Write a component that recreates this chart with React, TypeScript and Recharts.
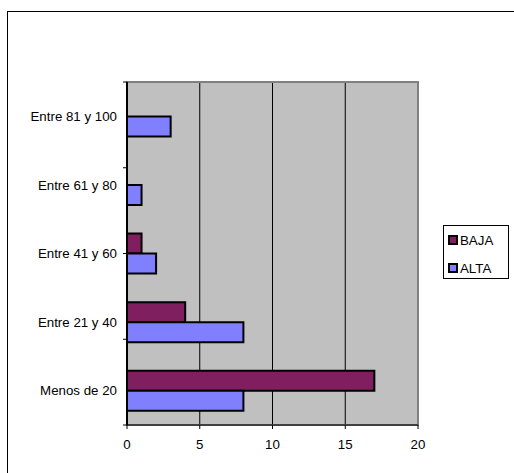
import React from 'react';
import { BarChart, Bar, XAxis, YAxis, CartesianGrid, Legend, ReferenceArea } from 'recharts';

const categories = ['Entre 81 y 100', 'Entre 61 y 80', 'Entre 41 y 60', 'Entre 21 y 40', 'Menos de 20'];
const seriesNames = ['BAJA', 'ALTA'];
const baja = [0, 0, 1, 4, 17];
const alta = [3, 1, 2, 8, 8];
const xTicks = [0, 5, 10, 15, 20];
const bandEdges = [0, 1, 2, 3, 4, 5];

const data = categories.map((name, i) => ({ name, BAJA: baja[i], ALTA: alta[i] }));

const FONT = 'Liberation Sans, Arial, sans-serif';

// legend drawn as a boxed list like the original
const renderLegend = (props: any) => {
  const payload = [...(props.payload || [])].sort(
    (a: any, b: any) => seriesNames.indexOf(a.value) - seriesNames.indexOf(b.value)
  );
  return (
    <div
      style={{
        width: 66,
        height: 54,
        border: '1px solid #000',
        background: '#fff',
        boxSizing: 'border-box',
        padding: '7px 0 0 4px',
        fontFamily: FONT,
        fontSize: 13.3,
        color: '#000',
      }}
    >
      {payload.map((entry: any) => (
        <div key={entry.value} style={{ display: 'flex', alignItems: 'center', height: 14, marginBottom: 14 }}>
          <span
            style={{
              display: 'inline-block',
              width: 10,
              height: 10,
              background: entry.color,
              border: '2px solid #000',
              boxSizing: 'border-box',
              marginRight: 2,
            }}
          />
          <span>{entry.value}</span>
        </div>
      ))}
    </div>
  );
};

const App: React.FC = () => {
  return (
    <div style={{ position: 'fixed', left: 0, top: 0, width: 514, height: 473, overflow: 'hidden', background: '#fff' }}>
      <div
        style={{
          position: 'absolute',
          left: 7,
          top: 11,
          width: 540,
          height: 500,
          border: '1px solid #000',
        }}
      />
      <div style={{ position: 'absolute', left: 0, top: 0 }}>
        <BarChart
          width={514}
          height={473}
          data={data}
          layout="vertical"
          margin={{ top: 82, right: 96, bottom: 18, left: 7 }}
          barGap={0}
          barCategoryGap="21%"
        >
          <CartesianGrid horizontal={false} fill="#C0C0C0" stroke="#000" strokeWidth={1} />
          <ReferenceArea x1={0} x2={20} yAxisId="b_cat" fill="none" stroke="#808080" strokeWidth={2} />
          <XAxis
            type="number"
            domain={[0, 20]}
            ticks={xTicks}
            height={30}
            tickSize={4}
            tickMargin={11}
            stroke="#000"
            tick={{ fill: '#000', fontSize: 13.3, fontFamily: FONT }}
            interval={0}
          />
          {/* numeric helper axis: axis line plus tick marks at the category band edges */}
          <YAxis
            yAxisId="a_edges"
            type="number"
            orientation="left"
            domain={[0, 5]}
            ticks={bandEdges}
            allowDataOverflow
            width={2}
            tickFormatter={() => ''}
            tickSize={4}
            tickLine={{ stroke: '#000', strokeWidth: 1 }}
            axisLine={{ stroke: '#000', strokeWidth: 2 }}
            stroke="#000"
            interval={0}
          />
          <YAxis
            yAxisId="b_cat"
            type="category"
            dataKey="name"
            width={118}
            tickSize={4}
            tickMargin={4}
            tickLine={false}
            axisLine={false}
            stroke="#000"
            tick={{ fill: '#000', fontSize: 13.3, fontFamily: FONT }}
            interval={0}
          />
          <Legend
            layout="vertical"
            align="center"
            verticalAlign="middle"
            content={renderLegend}
            wrapperStyle={{ left: 443, top: 225, width: 66 }}
          />
          <Bar yAxisId="b_cat" dataKey="BAJA" name="BAJA" fill="#7F1F5F" stroke="#000" strokeWidth={2} isAnimationActive={false} />
          <Bar yAxisId="b_cat" dataKey="ALTA" name="ALTA" fill="#8080FF" stroke="#000" strokeWidth={2} isAnimationActive={false} />
        </BarChart>
      </div>
    </div>
  );
};

export default App;
